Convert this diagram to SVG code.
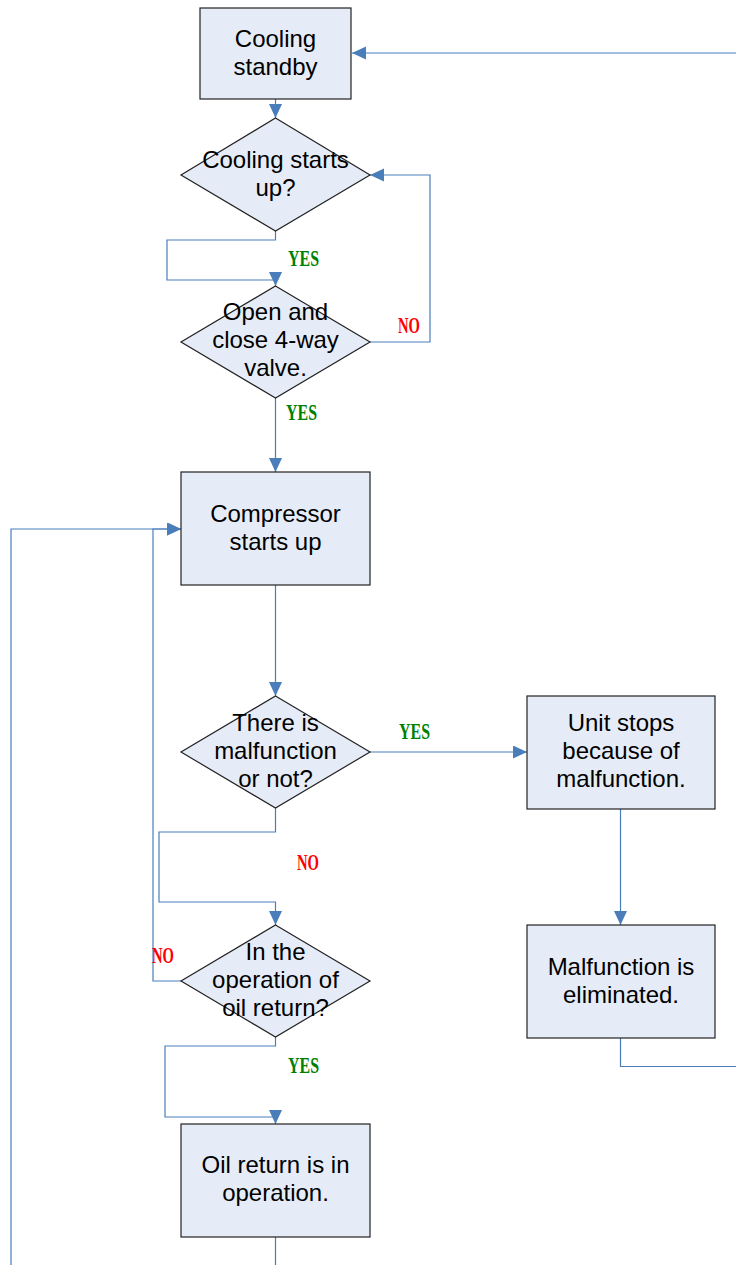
<svg xmlns="http://www.w3.org/2000/svg" width="736" height="1265" viewBox="0 0 736 1265">
<style>
.node{fill:#E6ECF7;stroke:#222;stroke-width:1.2}
.t{font-family:"Liberation Sans",Arial,sans-serif;font-size:24px;fill:#000;text-anchor:middle}
.c{fill:none;stroke:#4A7EBB;stroke-width:1.2}
.yes{font-family:"Liberation Serif","Times New Roman",serif;font-size:22.5px;font-weight:bold;fill:#008000}
.no{font-family:"Liberation Serif","Times New Roman",serif;font-size:22.5px;font-weight:bold;fill:#FF0000}
</style>
<defs>
<marker id="ah" markerUnits="userSpaceOnUse" markerWidth="15" markerHeight="15" refX="14" refY="6.5" orient="auto">
<path d="M0,0 L14,6.5 L0,13 z" fill="#4A7EBB"/>
</marker>
</defs>
<rect width="736" height="1265" fill="#fff"/>
<g id="connectors">
<path class="c" d="M737,53 H352" marker-end="url(#ah)"/>
<path class="c" d="M275.5,99 V118" marker-end="url(#ah)"/>
<path class="c" d="M275.5,231 V240 H167 V280 H275.5 V286" marker-end="url(#ah)"/>
<path class="c" d="M370,342 H430 V175 H370" marker-end="url(#ah)"/>
<path class="c" d="M275.5,398 V472" marker-end="url(#ah)"/>
<path class="c" d="M11,1266 V529 H181" marker-end="url(#ah)"/>
<path class="c" d="M181,981 H153 V529 H181" marker-end="url(#ah)"/>
<path class="c" d="M275.5,585 V696" marker-end="url(#ah)"/>
<path class="c" d="M370,752 H527" marker-end="url(#ah)"/>
<path class="c" d="M275.5,808 V832 H159 V902 H275.5 V925" marker-end="url(#ah)"/>
<path class="c" d="M620.5,809 V925" marker-end="url(#ah)"/>
<path class="c" d="M620.5,1038 V1066.5 H737"/>
<path class="c" d="M275.5,1037 V1046 H165 V1117 H275.5 V1124" marker-end="url(#ah)"/>
<path class="c" d="M275.5,1237 V1266"/>
</g>
<g id="labels">
<text class="yes" x="288" y="266" textLength="31" lengthAdjust="spacingAndGlyphs">YES</text>
<text class="no" x="398" y="333" textLength="22" lengthAdjust="spacingAndGlyphs">NO</text>
<text class="yes" x="286" y="420" textLength="31" lengthAdjust="spacingAndGlyphs">YES</text>
<text class="yes" x="399" y="739" textLength="31" lengthAdjust="spacingAndGlyphs">YES</text>
<text class="no" x="297" y="870" textLength="22" lengthAdjust="spacingAndGlyphs">NO</text>
<text class="no" x="152" y="963" textLength="22" lengthAdjust="spacingAndGlyphs">NO</text>
<text class="yes" x="288" y="1073" textLength="31" lengthAdjust="spacingAndGlyphs">YES</text>
</g>
<g id="cooling-standby">
<rect class="node" x="200" y="8" width="151" height="91"/>
<text class="t" x="275.5" y="47">Cooling</text>
<text class="t" x="275.5" y="75">standby</text>
</g>
<g id="cooling-starts">
<polygon class="node" points="275.5,118 370,175 275.5,231 181,175"/>
<text class="t" x="275.5" y="168">Cooling starts</text>
<text class="t" x="275.5" y="196">up?</text>
</g>
<g id="four-way-valve">
<polygon class="node" points="275.5,286 370,342 275.5,398 181,342"/>
<text class="t" x="275.5" y="320">Open and</text>
<text class="t" x="275.5" y="348">close 4-way</text>
<text class="t" x="275.5" y="376">valve.</text>
</g>
<g id="compressor">
<rect class="node" x="181" y="472" width="189" height="113"/>
<text class="t" x="275.5" y="522">Compressor</text>
<text class="t" x="275.5" y="550">starts up</text>
</g>
<g id="malfunction-check">
<polygon class="node" points="275.5,696 370,752 275.5,808 181,752"/>
<text class="t" x="275.5" y="731">There is</text>
<text class="t" x="275.5" y="759">malfunction</text>
<text class="t" x="275.5" y="787">or not?</text>
</g>
<g id="unit-stops">
<rect class="node" x="527" y="696" width="188" height="113"/>
<text class="t" x="621" y="731">Unit stops</text>
<text class="t" x="621" y="759">because of</text>
<text class="t" x="621" y="787">malfunction.</text>
</g>
<g id="oil-return-check">
<polygon class="node" points="275.5,925 370,981 275.5,1037 181,981"/>
<text class="t" x="275.5" y="960">In the</text>
<text class="t" x="275.5" y="988">operation of</text>
<text class="t" x="275.5" y="1016">oil return?</text>
</g>
<g id="malfunction-eliminated">
<rect class="node" x="527" y="925" width="188" height="113"/>
<text class="t" x="621" y="975">Malfunction is</text>
<text class="t" x="621" y="1003">eliminated.</text>
</g>
<g id="oil-return-operation">
<rect class="node" x="181" y="1124" width="189" height="113"/>
<text class="t" x="275.5" y="1173">Oil return is in</text>
<text class="t" x="275.5" y="1201">operation.</text>
</g>
</svg>
